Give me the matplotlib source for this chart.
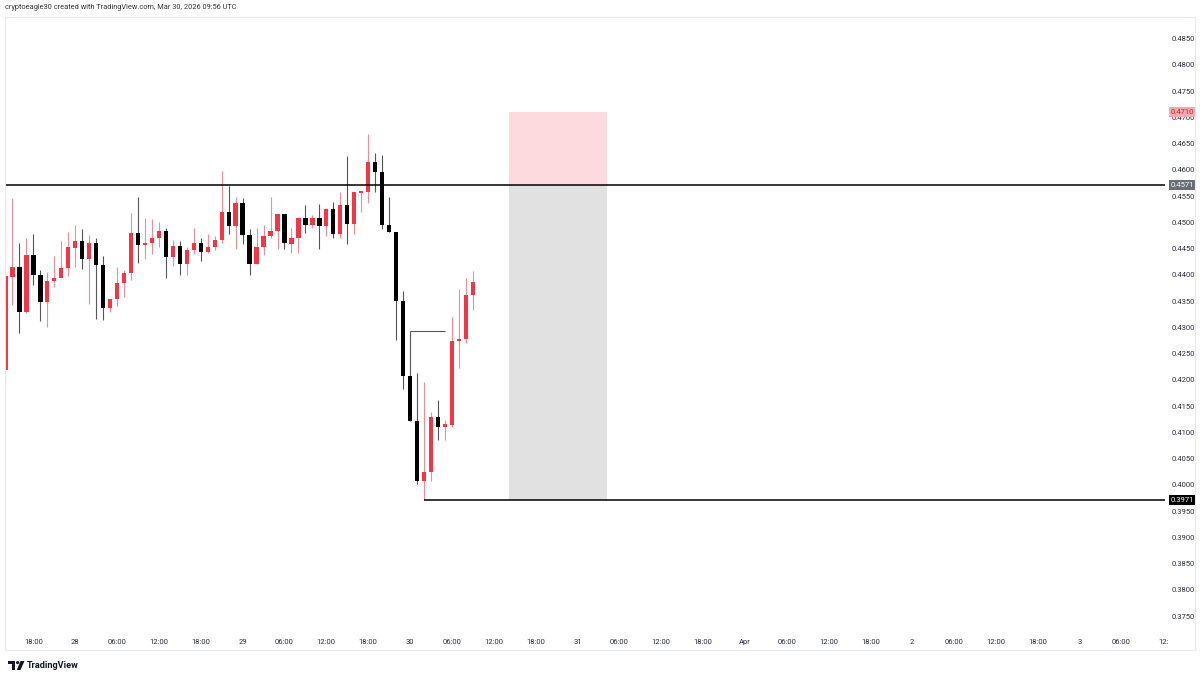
import matplotlib
matplotlib.use("Agg")
import matplotlib.pyplot as plt
import matplotlib.dates as mdates
import matplotlib.patches as mpatches
from matplotlib import font_manager
import pandas as pd

W, H = 1200, 682

# ---------------- data ----------------
first_bar = "2026-03-27 14:00"   # hourly candles
opens = [0.4219, 0.4396, 0.4414, 0.4329, 0.4438, 0.4400, 0.4349, 0.4388, 0.4394, 0.4412,
         0.4451, 0.4465, 0.4431, 0.4461, 0.4419, 0.4337, 0.4354, 0.4385, 0.4404, 0.4479,
         0.4456, 0.4460, 0.4471, 0.4483, 0.4434, 0.4455, 0.4421, 0.4447, 0.4460, 0.4444,
         0.4452, 0.4466, 0.4520, 0.4493, 0.4537, 0.4476, 0.4421, 0.4453, 0.4474, 0.4484,
         0.4516, 0.4459, 0.4470, 0.4508, 0.4495, 0.4509, 0.4493, 0.4525, 0.4477, 0.4532,
         0.4497, 0.4556, 0.4558, 0.4614, 0.4595, 0.4495, 0.4481, 0.4350, 0.4207, 0.4122,
         0.4007, 0.4025, 0.4129, 0.4110, 0.4114, 0.4273, 0.4278, 0.4361]
highs = [0.4398, 0.4547, 0.4460, 0.4470, 0.4477, 0.4410, 0.4405, 0.4436, 0.4464, 0.4481,
         0.4494, 0.4487, 0.4476, 0.4471, 0.4436, 0.4354, 0.4415, 0.4410, 0.4518, 0.4549,
         0.4509, 0.4507, 0.4501, 0.4490, 0.4466, 0.4464, 0.4453, 0.4489, 0.4470, 0.4477,
         0.4474, 0.4597, 0.4569, 0.4549, 0.4546, 0.4487, 0.4490, 0.4495, 0.4548, 0.4516,
         0.4516, 0.4489, 0.4509, 0.4533, 0.4514, 0.4534, 0.4527, 0.4538, 0.4557, 0.4626,
         0.4558, 0.4560, 0.4669, 0.4632, 0.4628, 0.4548, 0.4481, 0.4370, 0.4293, 0.4212,
         0.4196, 0.4139, 0.4161, 0.4123, 0.4319, 0.4373, 0.4394, 0.4408]
lows = [0.4196, 0.4342, 0.4289, 0.4327, 0.4380, 0.4312, 0.4301, 0.4377, 0.4393, 0.4398,
        0.4415, 0.4411, 0.4344, 0.4315, 0.4313, 0.4329, 0.4341, 0.4358, 0.4390, 0.4423,
        0.4431, 0.4439, 0.4453, 0.4393, 0.4417, 0.4400, 0.4400, 0.4440, 0.4426, 0.4442,
        0.4447, 0.4461, 0.4477, 0.4450, 0.4458, 0.4400, 0.4421, 0.4438, 0.4470, 0.4449,
        0.4449, 0.4441, 0.4441, 0.4480, 0.4489, 0.4450, 0.4474, 0.4470, 0.4470, 0.4458,
        0.4477, 0.4519, 0.4537, 0.4558, 0.4487, 0.4481, 0.4276, 0.4182, 0.4122, 0.4001,
        0.3971, 0.4007, 0.4085, 0.4085, 0.4111, 0.4222, 0.4271, 0.4332]
closes = [0.4398, 0.4414, 0.4329, 0.4438, 0.4400, 0.4349, 0.4388, 0.4394, 0.4412, 0.4452,
          0.4465, 0.4431, 0.4461, 0.4419, 0.4337, 0.4354, 0.4384, 0.4404, 0.4480, 0.4456,
          0.4460, 0.4471, 0.4483, 0.4434, 0.4455, 0.4421, 0.4447, 0.4460, 0.4444, 0.4452,
          0.4466, 0.4520, 0.4493, 0.4537, 0.4476, 0.4421, 0.4453, 0.4474, 0.4484, 0.4516,
          0.4460, 0.4470, 0.4508, 0.4495, 0.4509, 0.4493, 0.4525, 0.4477, 0.4532, 0.4497,
          0.4557, 0.4560, 0.4614, 0.4595, 0.4495, 0.4481, 0.4350, 0.4207, 0.4122, 0.4007,
          0.4025, 0.4129, 0.4111, 0.4115, 0.4273, 0.4278, 0.4361, 0.4386]

resistance_level = 0.4571
support_level = 0.3971
target_level = 0.4710
position_start = "2026-03-30 14:12"
position_end = "2026-03-31 04:12"
marker_level = 0.4293
marker_start = "2026-03-30 00:00"
marker_end = "2026-03-30 05:00"
support_start = "2026-03-30 02:00"

price_ticks = [0.3750, 0.3800, 0.3850, 0.3900, 0.3950, 0.4000, 0.4050, 0.4100, 0.4150,
               0.4200, 0.4250, 0.4300, 0.4350, 0.4400, 0.4450, 0.4500, 0.4550, 0.4600,
               0.4650, 0.4700, 0.4750, 0.4800, 0.4850]
time_tick_start = "2026-03-27 18:00"
time_labels = ["18:00", "28", "06:00", "12:00", "18:00", "29", "06:00", "12:00", "18:00",
               "30", "06:00", "12:00", "18:00", "31", "06:00", "12:00", "18:00", "Apr",
               "06:00", "12:00", "18:00", "2", "06:00", "12:00", "18:00", "3", "06:00", "12:"]
view_start = "2026-03-27 13:56"
view_end = "2026-04-03 12:14"
price_min, price_max = 0.37196, 0.4891

header = "cryptoeagle30 created with TradingView.com, Mar 30, 2026 09:56 UTC"
logo_text = "TradingView"

# ---------------- fonts ----------------
available = {f.name for f in font_manager.fontManager.ttflist}
def pick(*names):
    for n in names:
        if n in available:
            return n
    return "DejaVu Sans"
narrow = pick("Liberation Sans Narrow", "Roboto", "DejaVu Sans")
bold_font = pick("Roboto", "Lato", "DejaVu Sans")
plt.rcParams["font.family"] = [narrow, "DejaVu Sans"]

UP = "#f23645"
DOWN = "#000000"
UP_WICK = "#f58a93"
DOWN_WICK = "#555555"

fig = plt.figure(figsize=(W / 100, H / 100), dpi=100)
fig.patch.set_facecolor("white")

def fx(px):
    return px / W
def fy(py):
    return 1 - py / H

ax = fig.add_axes([fx(5), fy(632), fx(1165) - fx(5), fy(17) - fy(632)])
ax.set_facecolor("white")
for s in ax.spines.values():
    s.set_visible(False)

dates = pd.date_range(first_bar, periods=len(opens), freq="h")
xs = mdates.date2num(dates.to_pydatetime())
x0 = mdates.date2num(pd.Timestamp(view_start).to_pydatetime())
x1 = mdates.date2num(pd.Timestamp(view_end).to_pydatetime())
ax.set_xlim(x0, x1)
ax.set_ylim(price_min, price_max)

def dnum(s):
    return mdates.date2num(pd.Timestamp(s).to_pydatetime())

# position tool
ps, pe = dnum(position_start), dnum(position_end)
ax.fill_between([ps, pe], resistance_level, target_level, color="#fddadd", lw=0, zorder=1)
ax.fill_between([ps, pe], support_level, resistance_level, color="#e1e1e1", lw=0, zorder=1)

# horizontal levels
ax.hlines(resistance_level, x0, x1, color="black", lw=1.1, zorder=4)
ax.hlines(support_level, dnum(support_start), x1, color="black", lw=1.1, zorder=4)
ax.hlines(marker_level, dnum(marker_start), dnum(marker_end), color="#555555", lw=0.8, zorder=2)

# candles
bw = 0.62 / 24
min_body = 0.00022
for x, o, h, l, c in zip(xs, opens, highs, lows, closes):
    up = c >= o
    ax.vlines(x, l, h, color=UP_WICK if up else DOWN_WICK, lw=0.8, zorder=2)
    lo, hi = min(o, c), max(o, c)
    if hi - lo < min_body:
        mid = (hi + lo) / 2
        lo, hi = mid - min_body / 2, mid + min_body / 2
    ax.bar(x, hi - lo, bottom=lo, width=bw, color=UP if up else DOWN, lw=0, zorder=3)

# axes ticks
ax.yaxis.tick_right()
ax.set_yticks(price_ticks)
ax.set_yticklabels([f"{p:.4f}" for p in price_ticks])
ax.tick_params(axis="y", length=0, pad=4.5, labelsize=5.5, labelcolor="#2a2e39")
tpos = pd.date_range(time_tick_start, periods=len(time_labels), freq="6h")
ax.set_xticks(mdates.date2num(tpos.to_pydatetime()))
ax.set_xticklabels(time_labels)
ax.tick_params(axis="x", length=0, pad=5.2, labelsize=5.5, labelcolor="#2a2e39")

# price highlight labels
def tag(level, fc, tc):
    ax.annotate(f"{level:.4f}", xy=(1, level), xycoords=("axes fraction", "data"),
                xytext=(4.2, 0), textcoords="offset points", ha="left", va="center",
                fontsize=5.5, color=tc, zorder=10, annotation_clip=False,
                bbox=dict(boxstyle="square,pad=0.28", fc=fc, ec="none"))
tag(target_level, "#f7a9b0", "#c2222f")
tag(resistance_level, "#6a6d78", "white")
tag(support_level, "#000000", "white")

# frame around the chart panel
fig.add_artist(mpatches.Rectangle((fx(5), fy(650)), fx(1195) - fx(5), fy(17) - fy(650),
                                  transform=fig.transFigure, fill=False, ec="#e6e8ee", lw=0.8))

# header text
fig.text(fx(5), fy(7.5), header, fontsize=5.3, color="#333333", va="center", ha="left")

# logo
def rect(x, y, w, h):
    fig.add_artist(mpatches.Rectangle((fx(x), fy(y + h)), fx(w), h / H,
                                      transform=fig.transFigure, fc="#131722", ec="none"))
rect(8, 661, 7, 3.2)
rect(11.8, 661, 3.2, 9)
fig.add_artist(mpatches.Ellipse((fx(17.6), fy(662.6)), 3.2 / W, 3.2 / H,
                                transform=fig.transFigure, fc="#131722", ec="none"))
fig.add_artist(mpatches.Polygon([(fx(20.5), fy(661)), (fx(24.5), fy(661)),
                                 (fx(20.5), fy(670)), (fx(16.8), fy(670))],
                                transform=fig.transFigure, fc="#131722", ec="none"))
fig.text(fx(27), fy(665.5), logo_text, fontsize=6.6, fontweight="bold", family=bold_font,
         color="#131722", va="center", ha="left")

fig.savefig("out.png", dpi=100, facecolor="white")
